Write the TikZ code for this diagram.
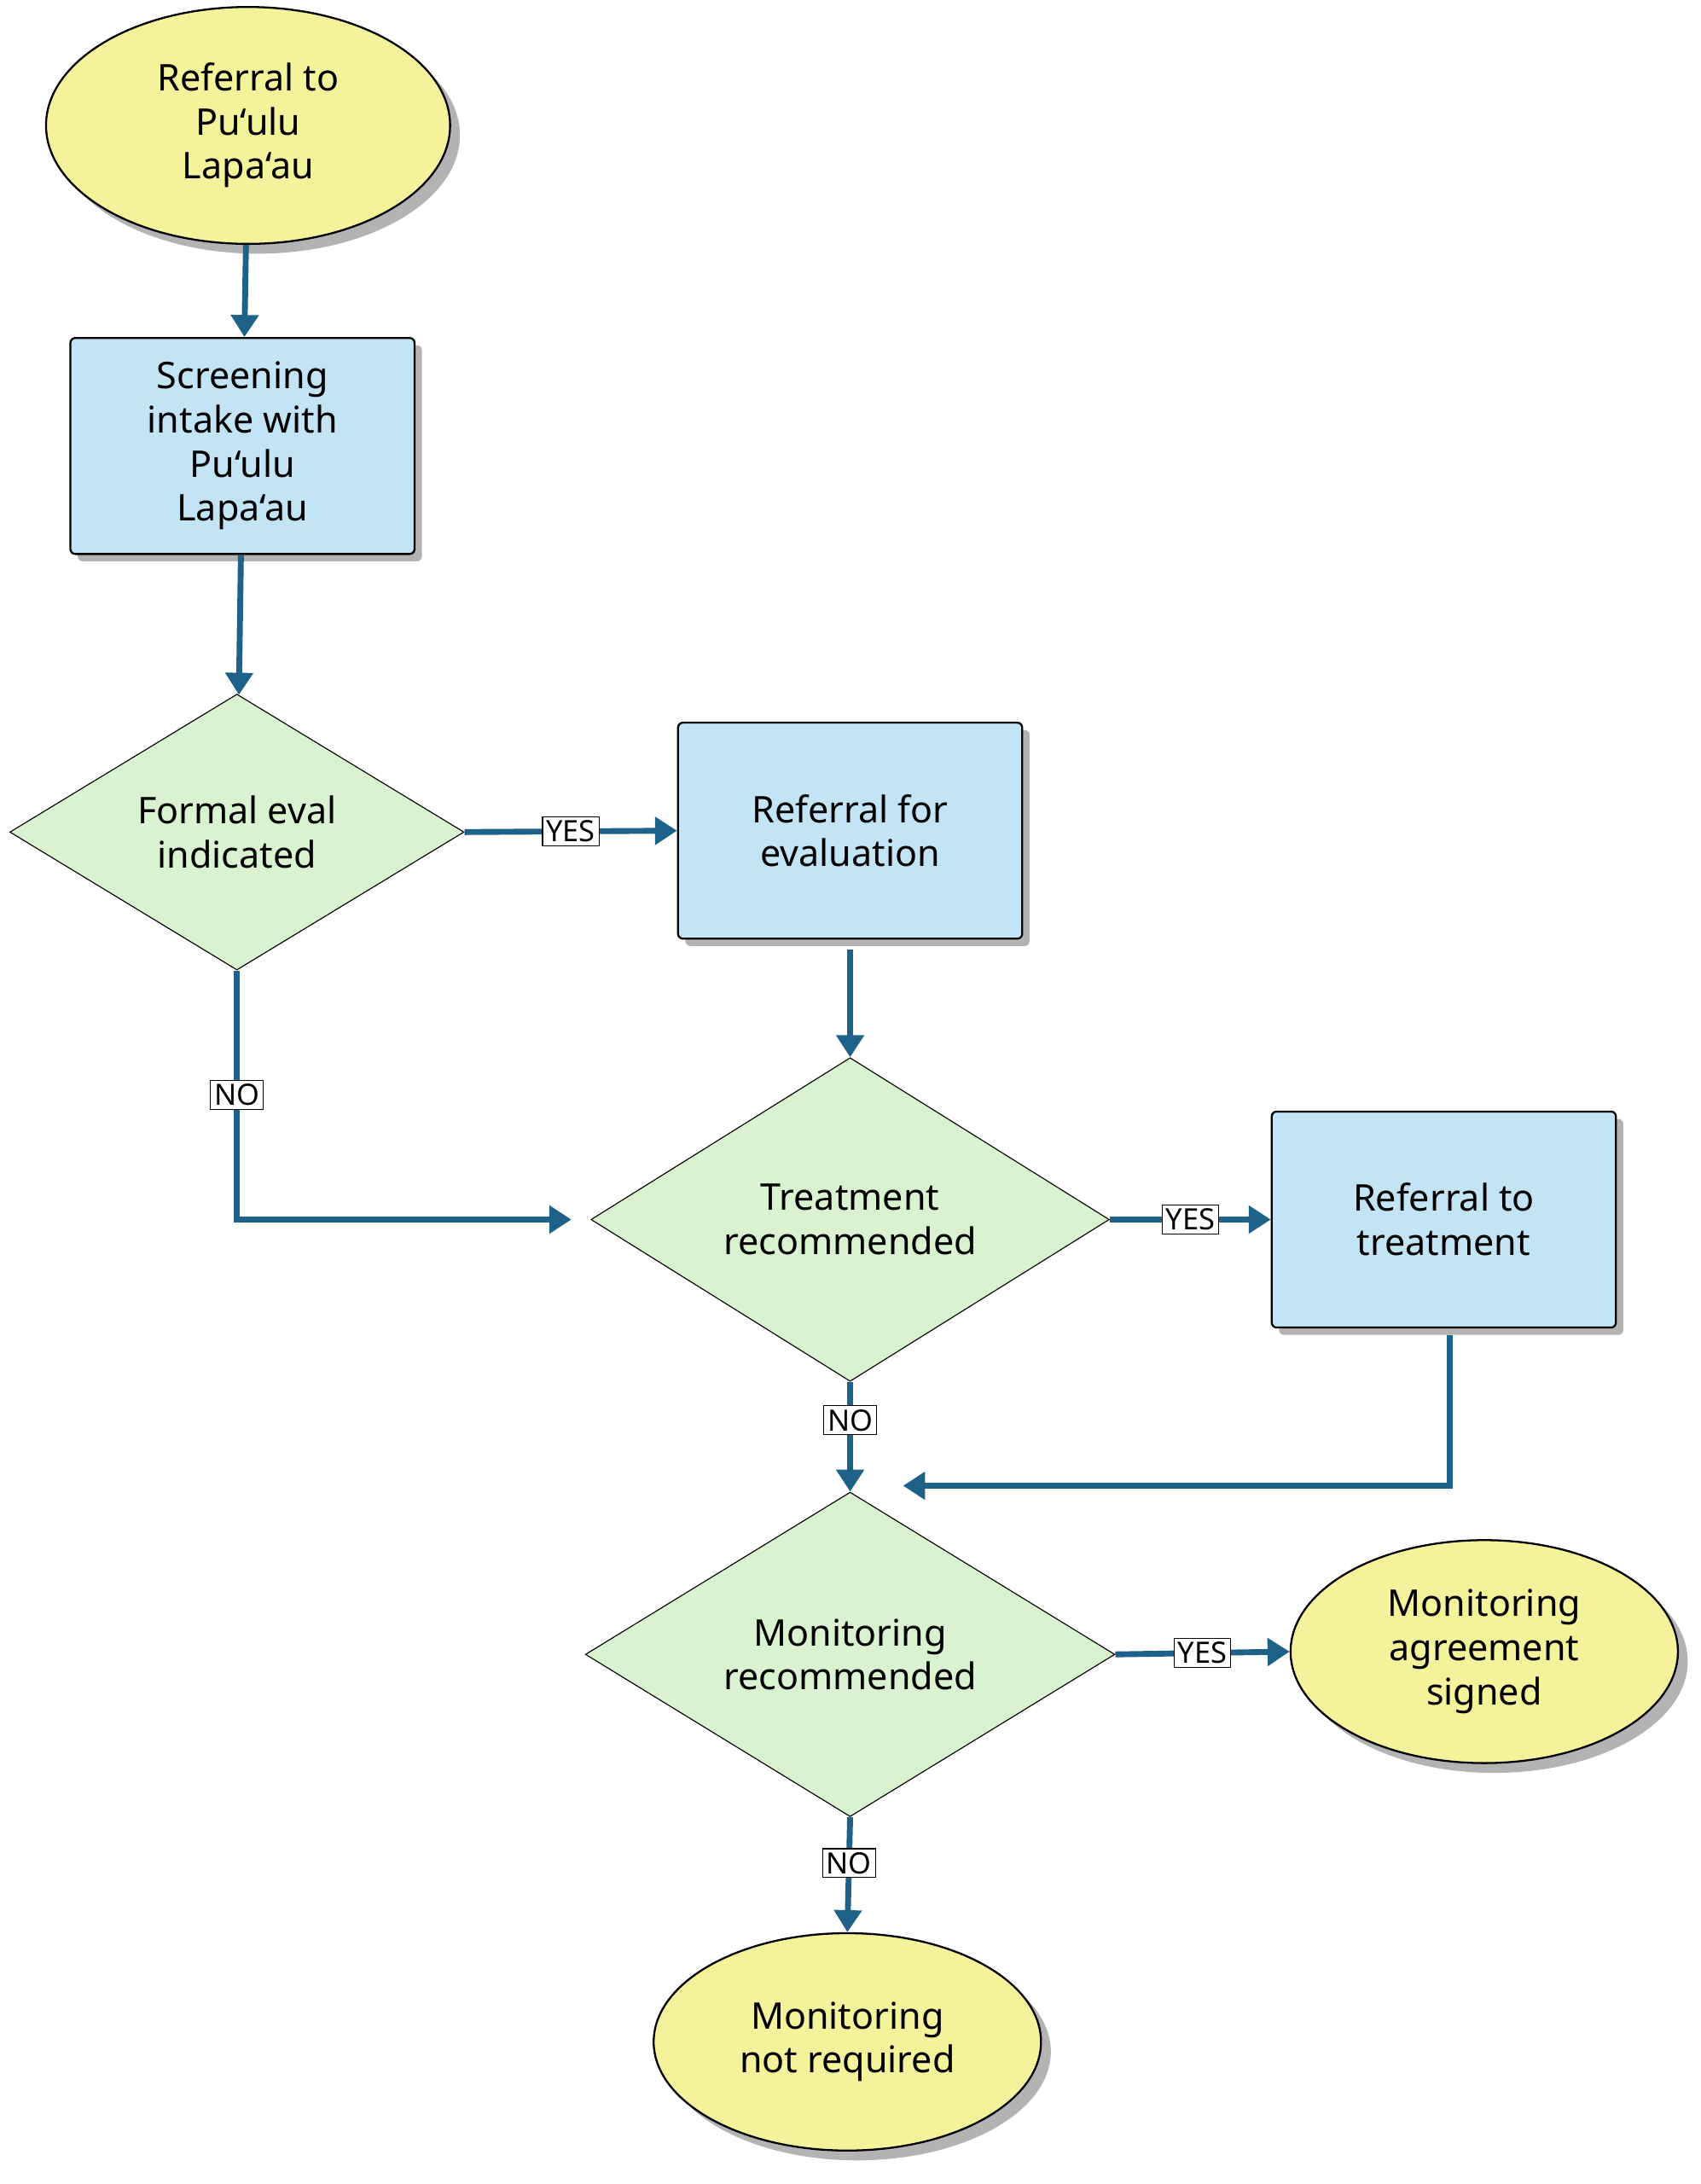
\documentclass[tikz,border=0pt]{standalone}
\usepackage{fontspec}
\setmainfont{Noto Sans}
\usetikzlibrary{shadows, arrows.meta, positioning, shapes.geometric}
\definecolor{my_yellow}{RGB}{244, 242, 154}
\definecolor{my_blue}{RGB}{194, 228, 245}
\definecolor{my_green}{RGB}{217, 242, 208}
\definecolor{my_arrow}{RGB}{30, 98, 138}
\tikzset {
  terminal/.style = {draw, thick, ellipse, fill=my_yellow, align=center, minimum width=5.6cm, minimum height=3.2cm, inner sep=0pt, font=\fontsize{15}{18}\selectfont, drop shadow={shadow xshift=4pt, shadow yshift=-4pt, opacity=0.6}},
  box/.style = {draw, thick, rectangle, rounded corners=2pt, fill=my_blue, align=center, minimum width=4.94cm, minimum height=3.1cm, font=\fontsize{15}{18}\selectfont, drop shadow={shadow xshift=3pt, shadow yshift=-3pt, opacity=0.6}},
  decision/.style = {draw, diamond, fill=my_green, align=center, inner sep=0pt, font=\fontsize{15}{18}\selectfont},
  line/.style = {-{Triangle[length=9pt, width=11pt]}, line width=2.4pt, color=my_arrow},
  lbl/.style = {draw=black, fill=white, thin, inner sep=1.5pt, font=\bfseries\fontsize{12}{14}\selectfont, text=black}
}
\begin{document}
\begin{tikzpicture}[x=0.02cm, y=-0.02cm]
    \useasboundingbox (0,0) rectangle (1220,1567);

    \node[terminal, minimum width=5.8cm, minimum height=3.4cm] (referral) at (178,90) {Referral to\\Pu‘ulu\\Lapa‘au};
    \node[box] (screening) at (174,320) {Screening\\intake with\\Pu‘ulu\\Lapa‘au};
    \node[decision, minimum width=6.52cm, minimum height=3.96cm] (formal) at (170,597) {Formal eval\\indicated};
    \node[box] (evaluation) at (610,596) {Referral for\\evaluation};
    \node[decision, minimum width=7.44cm, minimum height=4.56cm] (treatment) at (610,875) {Treatment\\recommended};
    \node[box] (treatref) at (1036,875) {Referral to\\treatment};
    \node[decision, minimum width=7.6cm, minimum height=4.56cm] (monitoring) at (610,1187) {Monitoring\\recommended};
    \node[terminal, minimum width=5.56cm] (signed) at (1065,1185) {Monitoring\\agreement\\signed};
    \node[terminal, minimum width=5.56cm, minimum height=3.12cm] (notreq) at (608,1465) {Monitoring\\not required};

    \coordinate (nojoin) at (410,875);
    \coordinate (treatjoin) at (648,1066);

    \draw[line] (referral) -- (screening);
    \draw[line] (screening) -- (formal);
    \draw[line] (formal.east) -- node[lbl] {YES} (evaluation.west);
    \draw[line] (formal.south) |- node[lbl, pos=0.25] {NO} (nojoin);
    \draw[line] ([yshift=-0.14cm]evaluation.south) -- (treatment.north);
    \draw[line] (treatment.east) -- node[lbl] {YES} (treatref.west);
    \draw[line] (treatment.south) -- node[lbl, pos=0.35] {NO} (monitoring.north);
    \draw[line] ([xshift=0.08cm, yshift=-0.1cm]treatref.south) |- (treatjoin);
    \draw[line] (monitoring.east) -- node[lbl] {YES} (signed.west);
    \draw[line] (monitoring.south) -- node[lbl, pos=0.4] {NO} (notreq.north);

  \end{tikzpicture}
\end{document}
